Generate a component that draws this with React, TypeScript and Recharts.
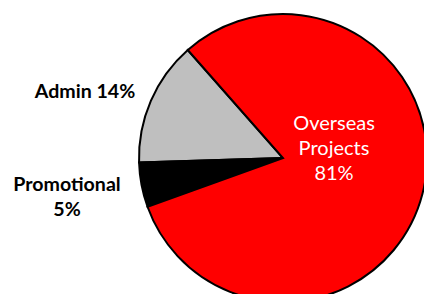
import { PieChart, Pie, Cell } from "recharts";

const categories = ["Admin", "Promotional", "Overseas Projects"];
const shares = [14, 5, 81];
const colors = ["#BFBFBF", "#000000", "#FF0000"];

const data = categories.map((name, i) => ({ name, value: shares[i] }));

// label placement relative to the pie centre (Excel "best fit" look)
const labelSpots = [
  { dx: -198, dy: -60, lines: (v: number) => [`Admin ${v}%`], fill: "#000", bold: true },
  { dx: -216, dy: 33, lines: (v: number) => ["Promotional", `${v}%`], fill: "#000", bold: true },
  { dx: 51, dy: -28, lines: (v: number) => ["Overseas", "Projects", `${v}%`], fill: "#fff", bold: false },
];

const renderLabel = (props: any) => {
  const { cx, cy, index, value } = props;
  const spot = labelSpots[index];
  const lines = spot.lines(value);
  return (
    <text
      x={cx + spot.dx}
      y={cy + spot.dy}
      textAnchor="middle"
      fill={spot.fill}
      fontFamily="Lato, 'Open Sans', sans-serif"
      fontSize={spot.bold ? 19.6 : 20}
      fontWeight={spot.bold ? 700 : 400}
    >
      {lines.map((t, i) => (
        <tspan key={i} x={cx + spot.dx} dy={i === 0 ? 0 : 25}>
          {t}
        </tspan>
      ))}
    </text>
  );
};

export default function App() {
  return (
    <div style={{ position: "absolute", left: 0, top: 0, width: 424, height: 294, background: "#fff" }}>
      <PieChart width={424} height={294} margin={{ top: 0, right: 0, bottom: 0, left: 0 }}>
        <Pie
          data={data}
          dataKey="value"
          nameKey="name"
          cx={283}
          cy={158}
          outerRadius={144}
          startAngle={131.4}
          endAngle={491.4}
          stroke="#000"
          strokeWidth={2}
          label={renderLabel}
          labelLine={false}
          isAnimationActive={false}
        >
          {data.map((d, i) => (
            <Cell key={d.name} fill={colors[i]} />
          ))}
        </Pie>
      </PieChart>
    </div>
  );
}
